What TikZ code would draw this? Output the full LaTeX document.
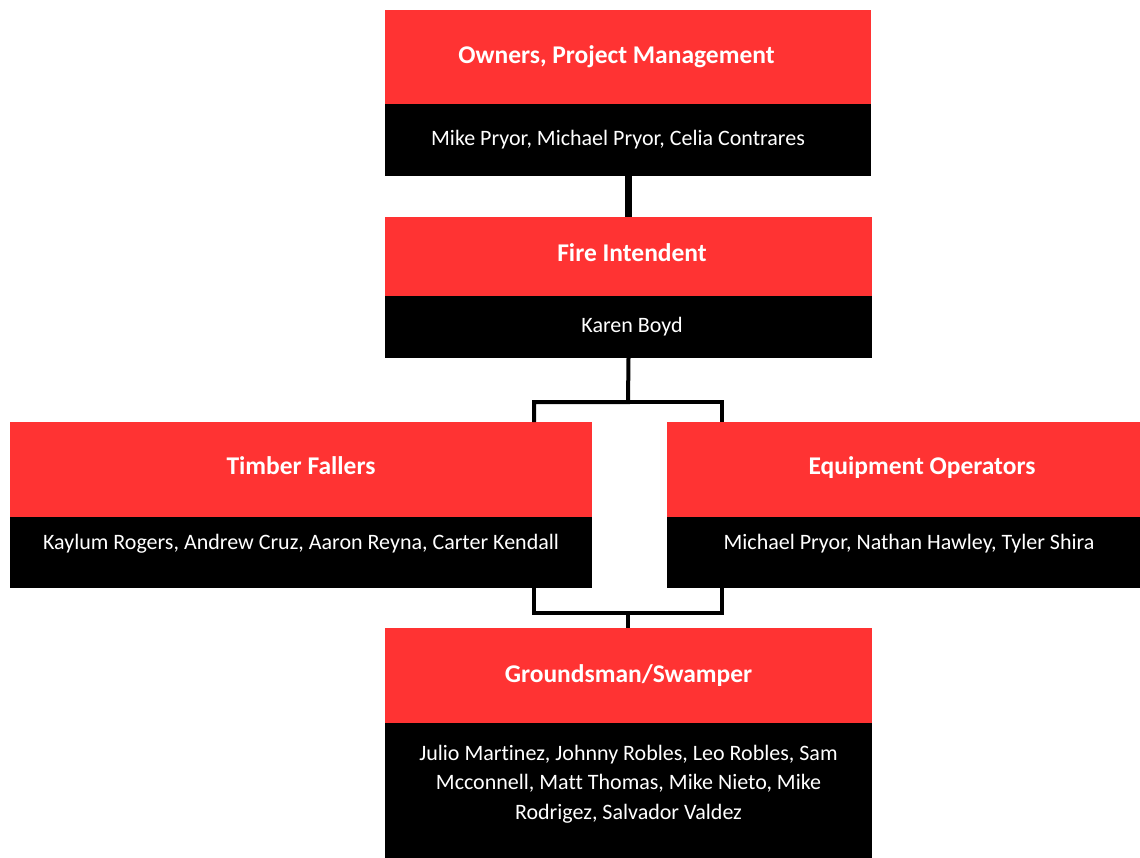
\documentclass[tikz,border=0pt]{standalone}
\usepackage{fontspec}
\setmainfont{Carlito}[RawFeature=-liga]
\usetikzlibrary{positioning}

\definecolor{chartred}{RGB}{255,51,51}

\tikzset{
  titlebox/.style={fill=chartred, text=white, inner sep=0pt, anchor=north,
    font=\bfseries\fontsize{25.5}{30}\selectfont},
  namebox/.style={fill=black, text=white, inner sep=0pt, align=center,
    font=\fontsize{22}{29.5}\selectfont},
  link/.style={draw=black, line width=4pt}
}

\begin{document}
\begin{tikzpicture}[x=1pt,y=-1pt]
\useasboundingbox (0,0) rectangle (1140,857);

\node[titlebox, minimum width=486pt, minimum height=94pt] (owners) at (628,10) {\hspace*{-23pt}Owners, Project Management};
\node[namebox, minimum width=486pt, minimum height=72pt, below=-1pt of owners] (ownersnames) {\hspace*{-20pt}Mike Pryor, Michael Pryor, Celia Contrares};

\node[titlebox, minimum width=487pt, minimum height=79pt, text depth=8pt] (fire) at (628.5,217) {\hspace*{7pt}Fire Intendent};
\node[namebox, minimum width=487pt, minimum height=62pt, below=-1pt of fire] (firenames) {\hspace*{7pt}Karen Boyd};

\node[titlebox, minimum width=582pt, minimum height=95pt, text depth=8pt] (timber) at (301,422) {Timber Fallers};
\node[namebox, minimum width=582pt, minimum height=71pt, text depth=20pt, below=-1pt of timber] (timbernames) {Kaylum Rogers, Andrew Cruz, Aaron Reyna, Carter Kendall};

\node[titlebox, minimum width=473pt, minimum height=95pt, text depth=8pt] (equip) at (903.5,422) {\hspace*{37pt}Equipment Operators};
\node[namebox, minimum width=473pt, minimum height=71pt, text depth=20pt, below=-1pt of equip] (equipnames) {\hspace*{11pt}Michael Pryor, Nathan Hawley, Tyler Shira};

\node[titlebox, minimum width=487pt, minimum height=95pt] (ground) at (628.5,628) {Groundsman/Swamper};
\node[namebox, minimum width=487pt, minimum height=135pt, text depth=16pt, below=-1pt of ground] (groundnames) {Julio Martinez, Johnny Robles, Leo Robles, Sam\\Mcconnell, Matt Thomas, Mike Nieto, Mike\\Rodrigez, Salvador Valdez};

\coordinate (fireknee) at (628,402);
\coordinate (timberin) at (534,422);
\coordinate (equipin) at (722,422);
\coordinate (groundknee) at (628,613);

\draw [line width=7pt] (ownersnames.south) -- (ownersnames.south |- fire.north);
\draw [link] (firenames.south) -- (fireknee) -| (timber.north -| timberin);
\draw [link] (fireknee) -| (equip.north -| equipin);
\draw [link] (timbernames.south -| timberin) |- (groundknee) -| (equipnames.south -| equipin);
\draw [link] (groundknee) -- (ground.north -| groundknee);

\end{tikzpicture}
\end{document}
